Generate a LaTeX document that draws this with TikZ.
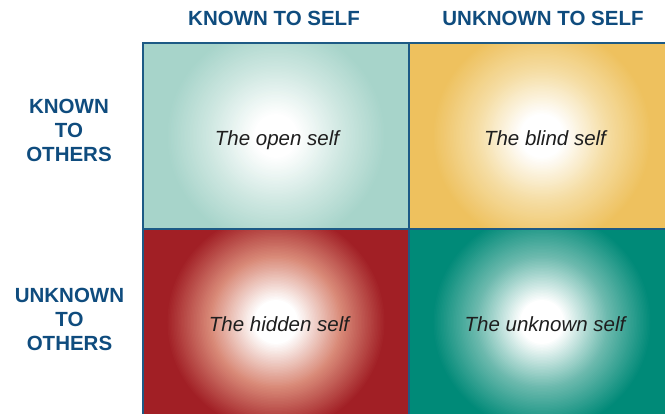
\documentclass[tikz,border=0pt]{standalone}
\usepackage{fontspec}
\setmainfont{Liberation Sans}
\definecolor{hdr}{HTML}{0F4C7E}
\definecolor{gridc}{HTML}{1D5A85}
\definecolor{cOpen}{HTML}{A7D4CA}
\definecolor{cBlind}{HTML}{EEC15E}
\definecolor{cHidden}{HTML}{A11F25}
\definecolor{cUnknown}{HTML}{008A78}
\definecolor{mOpen}{HTML}{D0E8E2}
\definecolor{mBlind}{HTML}{F5DDA3}
\definecolor{mHidden}{HTML}{D98A78}
\definecolor{mUnknown}{HTML}{6DBAAE}
\definecolor{txt}{HTML}{1E1E1E}
\tikzset{
  cell/.style 2 args={draw=gridc, line width=1.8pt, fill=#1, minimum width=266pt, minimum height=186pt, inner sep=0pt,
    path picture={
      \foreach \i in {0,...,30}{
        \pgfmathsetmacro\rr{110-\i*44/30}
        \pgfmathsetmacro\pp{100-\i*100/30}
        \fill[#1!\pp!#2] (path picture bounding box.center) circle (\rr pt);
      }
      \foreach \i in {1,...,30}{
        \pgfmathsetmacro\rr{66-\i*44/30}
        \pgfmathsetmacro\pp{100-\i*100/30}
        \fill[#2!\pp!white] (path picture bounding box.center) circle (\rr pt);
      }
    }},
  celltext/.style={font=\fontsize{20.5}{24}\selectfont\itshape, text=txt, anchor=base, inner sep=0pt},
  colhead/.style={font=\fontsize{20.5}{24}\selectfont\bfseries, text=hdr, anchor=base, inner sep=0pt},
  rowhead/.style={font=\fontsize{20.5}{24}\selectfont\bfseries, text=hdr, align=center, inner sep=0pt}
}
\begin{document}
\begin{tikzpicture}[x=1pt,y=-1pt]
\useasboundingbox (0,0) rectangle (665,414);
\node[cell={cOpen}{mOpen}] (open) at (276,136) {};
\node[cell={cBlind}{mBlind}] (blind) at (542,136) {};
\node[cell={cHidden}{mHidden}] (hidden) at (276,322) {};
\node[cell={cUnknown}{mUnknown}] (unknown) at (542,322) {};
\node[celltext] (topen) at (277,146) {The open self};
\node[celltext] (tblind) at (545,146) {The blind self};
\node[celltext] (thidden) at (279,332) {The hidden self};
\node[celltext] (tunknown) at (545,332) {The unknown self};
\node[colhead] (kself) at (274,26) {KNOWN TO SELF};
\node[colhead] (uself) at (543,26) {UNKNOWN TO SELF};
\node[rowhead] (kothers) at (69,130.5) {KNOWN\\TO\\OTHERS};
\node[rowhead] (uothers) at (69.5,319) {UNKNOWN\\TO\\OTHERS};
\end{tikzpicture}
\end{document}
